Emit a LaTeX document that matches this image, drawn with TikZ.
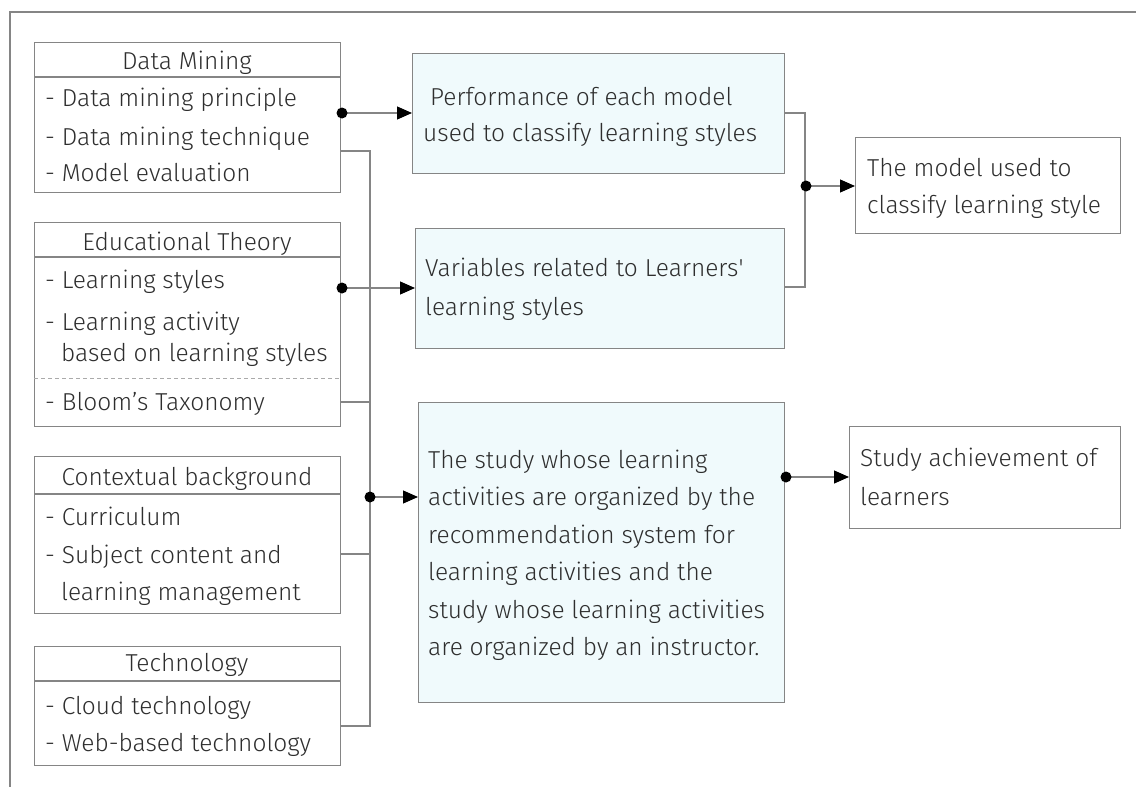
\documentclass[tikz,border=0pt]{standalone}
\usepackage{fontspec}
\IfFontExistsTF{Fira Sans Light}{\setmainfont{Fira Sans Light}}{\setmainfont{Fira Sans}}
\usetikzlibrary{arrows.meta}
\definecolor{edge}{HTML}{858585}
\definecolor{ink}{HTML}{2E2E2E}
\definecolor{pale}{HTML}{F0FAFC}
\begin{document}
\begin{tikzpicture}[x=1pt,y=-1pt,
  box/.style={draw=edge, line width=1.2pt, anchor=north west, inner sep=0pt},
  panel/.style={box, fill=pale},
  head/.style={anchor=base, inner sep=0pt, text=ink, font=\fontsize{24.5}{28}\selectfont},
  item/.style={anchor=base west, inner sep=0pt, text=ink, font=\fontsize{24.5}{28}\selectfont},
  wire/.style={draw=edge, line width=1.2pt},
  feed/.style={draw=edge, line width=1.2pt, -{Triangle[length=15pt,width=13pt,fill=black,color=black]}},
  dot/.style={circle, fill=black, inner sep=0pt, minimum size=11pt}
]
\useasboundingbox (0,0) rectangle (1136,787);
% page frame
\draw[edge, line width=1.2pt] (10,787) -- (10,12) -- (1136,12);

% ---- left column: source topics ----
\node[box, minimum width=306pt, minimum height=150pt] (dm) at (34,42) {};
\draw[wire] (34,77) -- (340,77);
\node[head] (dmh) at (187,69) {Data Mining};
\node[item] (dm1) at (45,106) {- Data mining principle};
\node[item] (dm2) at (45,145) {- Data mining technique};
\node[item] (dm3) at (45,181) {- Model evaluation};

\node[box, minimum width=306pt, minimum height=204pt] (et) at (34,222) {};
\draw[wire] (34,257) -- (340,257);
\draw[edge!70, line width=1pt, dash pattern=on 4pt off 3pt] (34,378) -- (340,378);
\node[head] (eth) at (187,250) {Educational Theory};
\node[item] (et1) at (45,288) {- Learning styles};
\node[item] (et2) at (45,330) {- Learning activity};
\node[item] (et3) at (61,361) {based on learning styles};
\node[item] (et4) at (45,410) {- Bloom’s Taxonomy};

\node[box, minimum width=306pt, minimum height=157pt] (cb) at (34,456) {};
\draw[wire] (34,494) -- (340,494);
\node[head] (cbh) at (187,485) {Contextual background};
\node[item] (cb1) at (45,525) {- Curriculum};
\node[item] (cb2) at (45,563) {- Subject content and};
\node[item] (cb3) at (61,600) {learning management};

\node[box, minimum width=306pt, minimum height=119pt] (tc) at (34,646) {};
\draw[wire] (34,681) -- (340,681);
\node[head] (tch) at (187,671) {Technology};
\node[item] (tc1) at (45,714) {- Cloud technology};
\node[item] (tc2) at (45,751) {- Web-based technology};

% ---- middle column ----
\node[panel, minimum width=372pt, minimum height=120pt] (pf) at (412,53) {};
\node[item] (pf1) at (430,105) {Performance of each model};
\node[item] (pf2) at (423,141) {used to classify learning styles};

\node[panel, minimum width=369pt, minimum height=120pt] (vr) at (415,228) {};
\node[item] (vr1) at (425,276) {Variables related to Learners\textquotesingle};
\node[item] (vr2) at (425,315) {learning styles};

\node[panel, minimum width=366pt, minimum height=300pt] (st) at (418,402) {};
\node[item] (st1) at (428,468) {The study whose learning};
\node[item] (st2) at (428,505.5) {activities are organized by the};
\node[item] (st3) at (428,543) {recommendation system for};
\node[item] (st4) at (428,580.5) {learning activities and the};
\node[item] (st5) at (428,618) {study whose learning activities};
\node[item] (st6) at (428,655.5) {are organized by an instructor.};

% ---- right column: outcomes ----
\node[box, minimum width=265pt, minimum height=96pt] (md) at (855,137) {};
\node[item] (md1) at (867,176) {The model used to};
\node[item] (md2) at (867,213) {classify learning style};

\node[box, minimum width=271pt, minimum height=102pt] (ac) at (849,426) {};
\node[item] (ac1) at (860,466) {Study achievement of};
\node[item] (ac2) at (860,505) {learners};

% ---- connectors ----
\coordinate (j1) at (370,151);
\coordinate (j2) at (370,402);
\coordinate (j3) at (370,554);
\coordinate (j4) at (370,726);
\coordinate (k1) at (805,113);
\coordinate (k2) at (805,287);
\coordinate (p1) at (342,113);
\coordinate (p2) at (342,288);
\coordinate (p3) at (370,497);
\coordinate (p4) at (806,186);
\coordinate (p5) at (786,477);

\draw[wire] (dm.east |- j1) -- (j1) -- (j4) -- (tc.east |- j4);
\draw[wire] (et.east |- j2) -- (j2);
\draw[wire] (cb.east |- j3) -- (j3);
\draw[wire] (pf.east |- k1) -- (k1) -- (k2) -- (vr.east |- k2);

\draw[feed] (p1) -- (pf.west |- p1);
\draw[feed] (p2) -- (vr.west |- p2);
\draw[feed] (p3) -- (st.west |- p3);
\draw[feed] (p4) -- (md.west |- p4);
\draw[feed] (p5) -- (ac.west |- p5);

\node[dot] (d1) at (p1) {};
\node[dot] (d2) at (p2) {};
\node[dot] (d3) at (p3) {};
\node[dot] (d4) at (p4) {};
\node[dot] (d5) at (p5) {};
\end{tikzpicture}
\end{document}
